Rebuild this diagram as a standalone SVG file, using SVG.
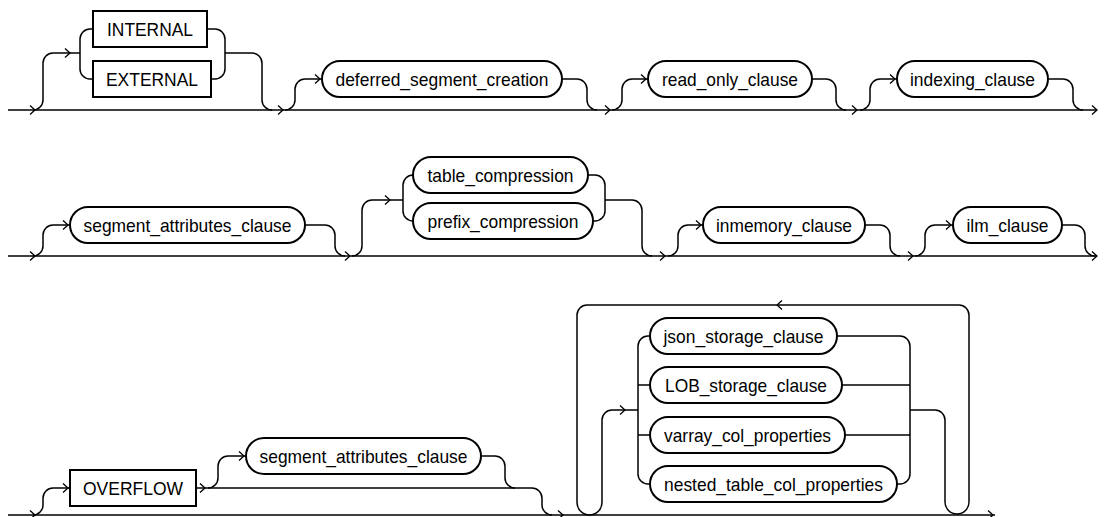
<svg xmlns="http://www.w3.org/2000/svg" xmlns:xlink="http://www.w3.org/1999/xlink" width="1104" height="517" viewBox="0 0 1104 517">
<style>
.ln{fill:none;stroke:#000;stroke-width:1.5}
.bx{fill:#fff;stroke:#000;stroke-width:2}
.tx{font-family:"Liberation Sans",Arial,sans-serif;font-size:19px;fill:#000;text-anchor:middle}
.ch{fill:none;stroke:#000;stroke-width:1.3}
</style>
<defs>
<path id="chR" class="ch" d="M-5,-4.5 L0,0 L-5,4.5"/>
<path id="chL" class="ch" d="M5,-4.5 L0,0 L5,4.5"/>
</defs>
<rect width="1104" height="517" fill="#fff"/>
<g id="connectors">
<path class="ln" d="M8 110 H1097"/>
<path class="ln" d="M33 110 a10 10 0 0 0 10 -10 V63 a10 10 0 0 1 10 -10 H80"/>
<path class="ln" d="M93 29 H90 a10 10 0 0 0 -10 10 V69 a10 10 0 0 0 10 10 H93"/>
<path class="ln" d="M207 29 H215 a10 10 0 0 1 10 10 V69 a10 10 0 0 1 -10 10 H211"/>
<path class="ln" d="M225 53 H252 a10 10 0 0 1 10 10 V100 a10 10 0 0 0 10 10"/>
<path class="ln" d="M285 110 a10 10 0 0 0 10 -10 V89 a10 10 0 0 1 10 -10 H322"/>
<path class="ln" d="M562 79 H577 a10 10 0 0 1 10 10 V100 a10 10 0 0 0 10 10"/>
<path class="ln" d="M612 110 a10 10 0 0 0 10 -10 V89 a10 10 0 0 1 10 -10 H648"/>
<path class="ln" d="M812 79 H826 a10 10 0 0 1 10 10 V100 a10 10 0 0 0 10 10"/>
<path class="ln" d="M860 110 a10 10 0 0 0 10 -10 V89 a10 10 0 0 1 10 -10 H897"/>
<path class="ln" d="M1048 79 H1063 a10 10 0 0 1 10 10 V100 a10 10 0 0 0 10 10"/>
<use xlink:href="#chR" x="35" y="110"/>
<use xlink:href="#chR" x="70" y="53"/>
<use xlink:href="#chR" x="283" y="110"/>
<use xlink:href="#chR" x="320" y="79"/>
<use xlink:href="#chR" x="610" y="110"/>
<use xlink:href="#chR" x="646" y="79"/>
<use xlink:href="#chR" x="857" y="110"/>
<use xlink:href="#chR" x="895" y="79"/>
<use xlink:href="#chR" x="1097" y="110"/>
<path class="ln" d="M8 256 H1097"/>
<path class="ln" d="M33 256 a10 10 0 0 0 10 -10 V235 a10 10 0 0 1 10 -10 H70"/>
<path class="ln" d="M305 225 H325 a10 10 0 0 1 10 10 V246 a10 10 0 0 0 10 10"/>
<path class="ln" d="M352 256 a10 10 0 0 0 10 -10 V210 a10 10 0 0 1 10 -10 H403"/>
<path class="ln" d="M413 175 a10 10 0 0 0 -10 10 V211 a10 10 0 0 0 10 10"/>
<path class="ln" d="M588 175 H595 a10 10 0 0 1 10 10 V211 a10 10 0 0 1 -10 10 H593"/>
<path class="ln" d="M605 200 H632 a10 10 0 0 1 10 10 V246 a10 10 0 0 0 10 10"/>
<path class="ln" d="M668 256 a10 10 0 0 0 10 -10 V235 a10 10 0 0 1 10 -10 H703"/>
<path class="ln" d="M865 225 H880 a10 10 0 0 1 10 10 V246 a10 10 0 0 0 10 10"/>
<path class="ln" d="M915 256 a10 10 0 0 0 10 -10 V235 a10 10 0 0 1 10 -10 H953"/>
<path class="ln" d="M1062 225 H1075 a10 10 0 0 1 10 10 V246 a10 10 0 0 0 10 10"/>
<use xlink:href="#chR" x="35" y="256"/>
<use xlink:href="#chR" x="68" y="225"/>
<use xlink:href="#chR" x="350" y="256"/>
<use xlink:href="#chR" x="390" y="200"/>
<use xlink:href="#chR" x="665" y="256"/>
<use xlink:href="#chR" x="701" y="225"/>
<use xlink:href="#chR" x="913" y="256"/>
<use xlink:href="#chR" x="951" y="225"/>
<use xlink:href="#chR" x="1097" y="256"/>
<path class="ln" d="M8 515 H995"/>
<path class="ln" d="M33 515 a10 10 0 0 0 10 -10 V498 a10 10 0 0 1 10 -10 H70"/>
<path class="ln" d="M196 488 H532 a10 10 0 0 1 10 10 V505 a10 10 0 0 0 10 10"/>
<path class="ln" d="M208 488 a10 10 0 0 0 10 -10 V466 a10 10 0 0 1 10 -10 H246"/>
<path class="ln" d="M481 456 H495 a10 10 0 0 1 10 10 V478 a10 10 0 0 0 10 10"/>
<path class="ln" d="M910 410 H935 a10 10 0 0 1 10 10 V502 a12 12 0 0 0 24 0 V315 a10 10 0 0 0 -10 -10 H587 a10 10 0 0 0 -10 10 V502.5 a12.5 12.5 0 0 0 25 0 V420 a10 10 0 0 1 10 -10 H638"/>
<path class="ln" d="M650 336 H648 a10 10 0 0 0 -10 10 V474 a10 10 0 0 0 10 10 H650 M638 385 H650 M638 435 H650"/>
<path class="ln" d="M837 336 H900 a10 10 0 0 1 10 10 V474 a10 10 0 0 1 -10 10 H897 M842 385 H910 M845 435 H910"/>
<use xlink:href="#chR" x="35" y="515"/>
<use xlink:href="#chR" x="68" y="488"/>
<use xlink:href="#chR" x="205" y="488"/>
<use xlink:href="#chR" x="244" y="456"/>
<use xlink:href="#chR" x="563" y="515"/>
<use xlink:href="#chR" x="625" y="410"/>
<use xlink:href="#chL" x="777" y="305"/>
<use xlink:href="#chR" x="993" y="515"/>
</g>
<g id="n-internal"><rect class="bx" x="93" y="11" width="114" height="36"/><text class="tx" x="150" y="36" textLength="86" lengthAdjust="spacingAndGlyphs">INTERNAL</text></g>
<g id="n-external"><rect class="bx" x="93" y="61" width="118" height="36"/><text class="tx" x="152" y="86" textLength="92" lengthAdjust="spacingAndGlyphs">EXTERNAL</text></g>
<g id="n-deferred"><rect class="bx" x="322" y="61" width="240" height="36" rx="18"/><text class="tx" x="442" y="86" textLength="213" lengthAdjust="spacingAndGlyphs">deferred_segment_creation</text></g>
<g id="n-readonly"><rect class="bx" x="648" y="61" width="164" height="36" rx="18"/><text class="tx" x="730" y="86" textLength="136" lengthAdjust="spacingAndGlyphs">read_only_clause</text></g>
<g id="n-indexing"><rect class="bx" x="897" y="61" width="151" height="36" rx="18"/><text class="tx" x="972.5" y="86" textLength="125" lengthAdjust="spacingAndGlyphs">indexing_clause</text></g>
<g id="n-segattr1"><rect class="bx" x="70" y="207" width="235" height="36" rx="18"/><text class="tx" x="187.5" y="232" textLength="208" lengthAdjust="spacingAndGlyphs">segment_attributes_clause</text></g>
<g id="n-tablecomp"><rect class="bx" x="413" y="157" width="175" height="36" rx="18"/><text class="tx" x="500.5" y="182" textLength="146" lengthAdjust="spacingAndGlyphs">table_compression</text></g>
<g id="n-prefixcomp"><rect class="bx" x="413" y="203" width="180" height="36" rx="18"/><text class="tx" x="503" y="228" textLength="151" lengthAdjust="spacingAndGlyphs">prefix_compression</text></g>
<g id="n-inmemory"><rect class="bx" x="703" y="207" width="162" height="36" rx="18"/><text class="tx" x="784" y="232" textLength="136" lengthAdjust="spacingAndGlyphs">inmemory_clause</text></g>
<g id="n-ilm"><rect class="bx" x="953" y="207" width="109" height="36" rx="18"/><text class="tx" x="1007.5" y="232" textLength="82" lengthAdjust="spacingAndGlyphs">ilm_clause</text></g>
<g id="n-overflow"><rect class="bx" x="70" y="470" width="126" height="36"/><text class="tx" x="133" y="495" textLength="100" lengthAdjust="spacingAndGlyphs">OVERFLOW</text></g>
<g id="n-segattr2"><rect class="bx" x="246" y="438" width="235" height="36" rx="18"/><text class="tx" x="363.5" y="463" textLength="208" lengthAdjust="spacingAndGlyphs">segment_attributes_clause</text></g>
<g id="n-json"><rect class="bx" x="650" y="318" width="187" height="36" rx="18"/><text class="tx" x="743.5" y="343" textLength="160" lengthAdjust="spacingAndGlyphs">json_storage_clause</text></g>
<g id="n-lob"><rect class="bx" x="650" y="367" width="192" height="36" rx="18"/><text class="tx" x="746" y="392" textLength="162" lengthAdjust="spacingAndGlyphs">LOB_storage_clause</text></g>
<g id="n-varray"><rect class="bx" x="650" y="417" width="195" height="36" rx="18"/><text class="tx" x="747.5" y="442" textLength="167" lengthAdjust="spacingAndGlyphs">varray_col_properties</text></g>
<g id="n-nested"><rect class="bx" x="650" y="466" width="247" height="36" rx="18"/><text class="tx" x="773.5" y="491" textLength="219" lengthAdjust="spacingAndGlyphs">nested_table_col_properties</text></g>
</svg>
